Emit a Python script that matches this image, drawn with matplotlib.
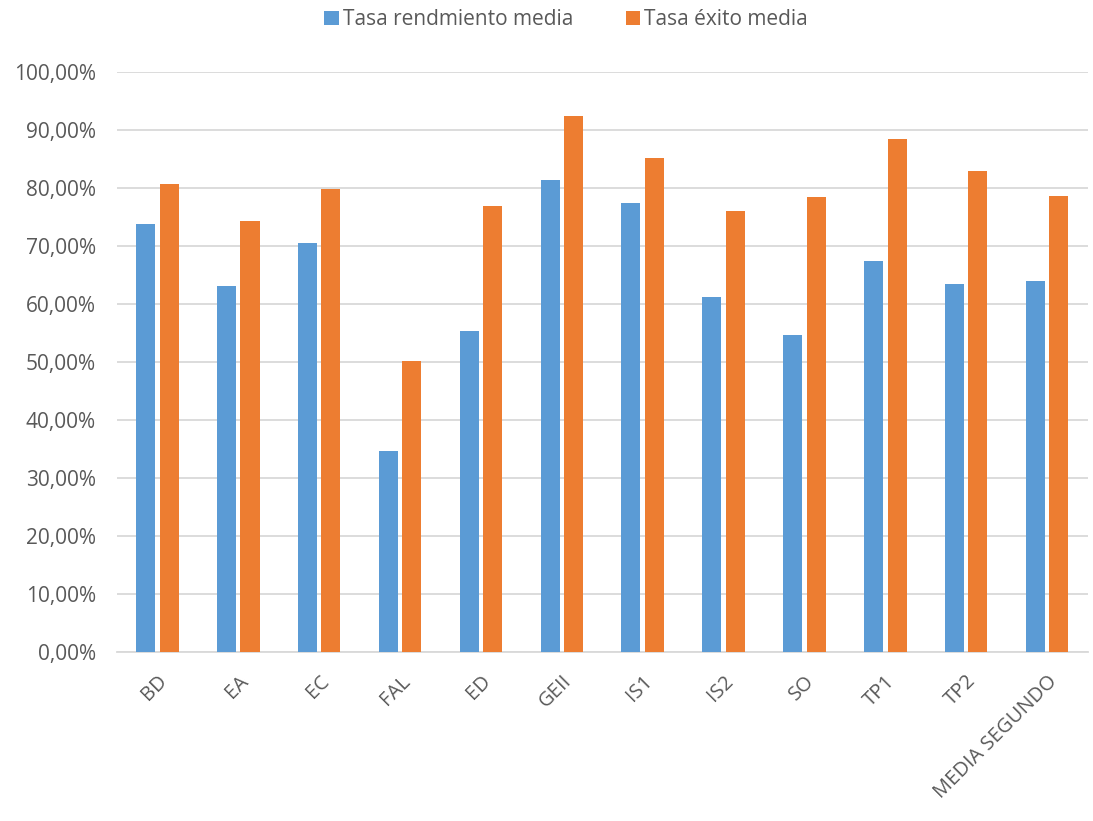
import numpy as np
import matplotlib.pyplot as plt
from matplotlib.ticker import FuncFormatter

# Asignaturas y tasas medias (en %)
asignaturas = ['BD', 'EA', 'EC', 'FAL', 'ED', 'GEII', 'IS1', 'IS2', 'SO', 'TP1', 'TP2', 'MEDIA SEGUNDO']
rendimiento = [73.8, 63.2, 70.6, 34.6, 55.3, 81.4, 77.4, 61.3, 54.7, 67.5, 63.5, 63.9]
exito = [80.7, 74.4, 79.9, 50.1, 77.0, 92.4, 85.2, 76.0, 78.4, 88.4, 82.9, 78.7]

plt.rcParams['font.family'] = ['Open Sans', 'DejaVu Sans']
text_color = '#595959'

fig = plt.figure(figsize=(10.93, 8.21), dpi=100)
ax = fig.add_axes([0.107, 0.206, 0.888, 0.706])

x = np.arange(len(asignaturas))
w = 0.235
ax.bar(x - 0.145, rendimiento, w, color='#5B9BD5', label='Tasa rendmiento media', zorder=3)
ax.bar(x + 0.145, exito, w, color='#ED7D31', label='Tasa éxito media', zorder=3)

ax.set_ylim(0, 100)
ax.set_xlim(-0.5, len(asignaturas) - 0.5)
ax.set_yticks(np.arange(0, 101, 10))
ax.yaxis.set_major_formatter(FuncFormatter(lambda v, p: f'{v:.2f}%'.replace('.', ',')))
ax.grid(axis='y', color='#d9d9d9', linewidth=1.3, zorder=0)
for s in ['top', 'right', 'left']:
    ax.spines[s].set_visible(False)
ax.spines['bottom'].set_color('#d9d9d9')
ax.spines['bottom'].set_linewidth(1.3)
ax.tick_params(length=0, colors=text_color)
ax.tick_params(axis='y', pad=15, labelsize=15)
ax.set_xticks(x)
ax.set_xticklabels(asignaturas, rotation=45, ha='right', rotation_mode='anchor')
ax.tick_params(axis='x', pad=14, labelsize=14.5)

fig.legend(*ax.get_legend_handles_labels(), loc='center', bbox_to_anchor=(0.518, 0.976),
           ncol=2, frameon=False, fontsize=15, labelcolor=text_color, handlelength=0.7,
           handleheight=0.7, handletextpad=0.2, columnspacing=2.5)

fig.savefig('out.png', dpi=100)
